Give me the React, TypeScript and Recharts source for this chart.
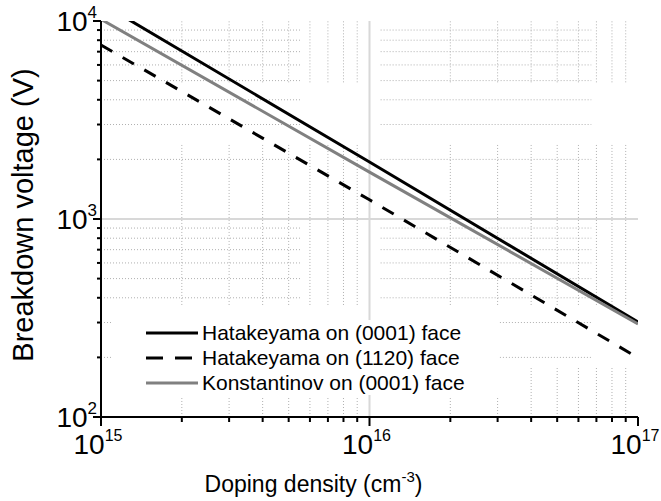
import React from "react";
import {
  Legend,
  Line,
  LineChart,
  ReferenceLine,
  XAxis,
  YAxis,
} from "recharts";

// doping density (cm^-3)
const densities = [1e15, 1e16, 1e17];
// breakdown voltage (V)
const hataC = [12300, 1940, 302];
const hataA = [7570, 1250, 199];
const konst = [10200, 1725, 295];

const xMajor = [1e15, 1e16, 1e17];
const yMajor = [1e2, 1e3, 1e4];
const mult = [2, 3, 4, 5, 6, 7, 8, 9];
const xMinorLeft = mult.map((m) => m * 1e15);
const xMinorRight = mult.map((m) => m * 1e16);
const yMinorUpper = mult.map((m) => m * 1e3);
const yMinorLower = mult.map((m) => m * 1e2);

const xTicks = [...xMajor, ...xMinorLeft, ...xMinorRight].sort((a, b) => a - b);
const yTicks = [...yMajor, ...yMinorUpper, ...yMinorLower].sort((a, b) => a - b);

const series = [
  { key: "a", name: "Hatakeyama on (0001) face", color: "#000", dash: undefined },
  { key: "b", name: "Hatakeyama on (1120) face", color: "#000", dash: "13 12" },
  { key: "c", name: "Konstantinov on (0001) face", color: "#808080", dash: undefined },
];

const data = densities.map((d, i) => ({
  x: d,
  a: hataC[i],
  b: hataA[i],
  c: konst[i],
}));

// visible pieces of the dotted minor grid
const hSpansMain = [
  [1e15, 5.6e15],
  [1.1e16, 6.7e16],
];
const hSpansLow = [
  [1e15, 1.1e15],
  [3.06e16, 6.7e16],
];
const vSpansA = [
  [4.9e3, 1e4],
  [368, 2.37e3],
  [100, 125],
];
const vSpansB = [
  [4.9e3, 1e4],
  [368, 2.37e3],
  [100, 177],
];

const FONT = "'Liberation Sans', Arial, sans-serif";
const minorGrid = { stroke: "#b0b0b0", strokeWidth: 1, strokeDasharray: "1 2" };

const exp = (v: number) => Math.round(Math.log10(v));
const isMajor = (v: number, list: number[]) => list.some((m) => Math.abs(m - v) / m < 1e-6);

const BottomTick = (props: any) => {
  const { x, y, payload } = props;
  const major = isMajor(payload.value, xMajor);
  return (
    <g>
      <line x1={x} x2={x} y1={y} y2={y + (major ? 9 : 5)} stroke="#000" strokeWidth={2} />
      {major && (
        <text x={x - 3} y={y + 37} textAnchor="middle" fontSize={28} fontFamily={FONT} fill="#000">
          10
          <tspan dy={-13} fontSize={16}>
            {exp(payload.value)}
          </tspan>
        </text>
      )}
    </g>
  );
};

const LeftTick = (props: any) => {
  const { x, y, payload } = props;
  const major = isMajor(payload.value, yMajor);
  return (
    <g>
      <line x1={x - (major ? 8 : 4)} x2={x} y1={y} y2={y} stroke="#000" strokeWidth={2} />
      {major && (
        <text x={x - 4} y={y + 10} textAnchor="end" fontSize={28} fontFamily={FONT} fill="#000">
          10
          <tspan dy={-13} fontSize={17}>
            {exp(payload.value)}
          </tspan>
        </text>
      )}
    </g>
  );
};

const TopTick = (props: any) => {
  const { x, y, payload } = props;
  const major = isMajor(payload.value, xMajor);
  return <line x1={x} x2={x} y1={y} y2={y + (major ? 9 : 6)} stroke="#000" strokeWidth={2} />;
};

const RightTick = (props: any) => {
  const { x, y, payload } = props;
  const major = isMajor(payload.value, yMajor);
  return <line x1={x - (major ? 7 : 4)} x2={x} y1={y} y2={y} stroke="#000" strokeWidth={2} />;
};

const YLabel = (props: any) => {
  const { viewBox } = props;
  const cx = viewBox.x + 23;
  const cy = viewBox.y + viewBox.height / 2 - 4;
  return (
    <text
      x={cx}
      y={cy}
      transform={`rotate(-90 ${cx} ${cy})`}
      textAnchor="middle"
      dominantBaseline="central"
      fontSize={29}
      fontFamily={FONT}
      fill="#000"
    >
      Breakdown voltage (V)
    </text>
  );
};

const XLabel = (props: any) => {
  const { viewBox } = props;
  const cx = viewBox.x + viewBox.width / 2 - 56;
  return (
    <text x={cx} y={viewBox.y + 75} textAnchor="middle" fontSize={23} fontFamily={FONT} fill="#000">
      Doping density (cm
      <tspan dy={-10} fontSize={15}>
        -3
      </tspan>
      <tspan dy={10}>)</tspan>
    </text>
  );
};

const LegendBox = () => (
  <div style={{ background: "#fff", fontFamily: FONT, fontSize: 21, color: "#000" }}>
    {series.map((s) => (
      <div key={s.key} style={{ display: "flex", alignItems: "center", height: 25 }}>
        <svg width={52} height={10}>
          <line
            x1={0}
            x2={52}
            y1={5}
            y2={5}
            stroke={s.color}
            strokeWidth={3}
            strokeDasharray={s.dash ? "17 12" : undefined}
          />
        </svg>
        <span style={{ marginLeft: 4, whiteSpace: "nowrap" }}>{s.name}</span>
      </div>
    ))}
  </div>
);

export default function App() {
  return (
    <div style={{ position: "absolute", left: 0, top: 0, background: "#fff" }}>
      <LineChart
        width={661}
        height={501}
        data={data}
        margin={{ top: 21, right: 23, left: 0, bottom: 0 }}
      >
        <XAxis
          xAxisId="b"
          dataKey="x"
          type="number"
          scale="log"
          domain={[1e15, 1e17]}
          allowDataOverflow
          ticks={xTicks}
          interval={0}
          tickSize={0}
          tickMargin={0}
          tickLine={false}
          tick={<BottomTick />}
          axisLine={{ stroke: "#000", strokeWidth: 2 }}
          height={84}
          label={<XLabel />}
        />
        <XAxis
          xAxisId="t"
          orientation="top"
          dataKey="x"
          type="number"
          scale="log"
          domain={[1e15, 1e17]}
          allowDataOverflow
          ticks={xTicks}
          interval={0}
          tickSize={0}
          tickMargin={0}
          tickLine={false}
          tick={<TopTick />}
          axisLine={{ stroke: "#000", strokeWidth: 2 }}
          height={0}
        />
        <YAxis
          yAxisId="l"
          type="number"
          scale="log"
          domain={[100, 10000]}
          allowDataOverflow
          ticks={yTicks}
          interval={0}
          tickSize={0}
          tickMargin={0}
          tickLine={false}
          tick={<LeftTick />}
          axisLine={{ stroke: "#000", strokeWidth: 2 }}
          width={101}
          label={<YLabel />}
        />
        <YAxis
          yAxisId="r"
          orientation="right"
          type="number"
          scale="log"
          domain={[100, 10000]}
          allowDataOverflow
          ticks={yTicks}
          interval={0}
          tickSize={0}
          tickMargin={0}
          tickLine={false}
          tick={<RightTick />}
          axisLine={{ stroke: "#000", strokeWidth: 2 }}
          width={0}
        />

        {[...yMinorUpper, ...yMinorLower.filter((v) => v >= 400)].map((v) =>
          hSpansMain.map(([x1, x2], i) => (
            <ReferenceLine
              key={`h${v}-${i}`}
              xAxisId="b"
              yAxisId="l"
              segment={[{ x: x1, y: v }, { x: x2, y: v }]}
              {...minorGrid}
            />
          ))
        )}
        {yMinorLower
          .filter((v) => v < 400)
          .map((v) =>
            hSpansLow.map(([x1, x2], i) => (
              <ReferenceLine
                key={`hl${v}-${i}`}
                xAxisId="b"
                yAxisId="l"
                segment={[{ x: x1, y: v }, { x: x2, y: v }]}
                {...minorGrid}
              />
            ))
          )}
        {[...xMinorLeft, ...xMinorRight].map((v) =>
          (v < 3.5e16 ? vSpansA : vSpansB).map(([y1, y2], i) => (
            <ReferenceLine
              key={`v${v}-${i}`}
              xAxisId="b"
              yAxisId="l"
              segment={[{ x: v, y: y1 }, { x: v, y: y2 }]}
              {...minorGrid}
            />
          ))
        )}
        <ReferenceLine xAxisId="b" yAxisId="l" x={1e16} stroke="#d8d8d8" strokeWidth={2} />
        <ReferenceLine xAxisId="b" yAxisId="l" y={1e3} stroke="#d8d8d8" strokeWidth={2} />

        {series.map((s) => (
          <Line
            key={s.key}
            xAxisId="b"
            yAxisId="l"
            dataKey={s.key}
            name={s.name}
            type="linear"
            stroke={s.color}
            strokeWidth={3}
            strokeDasharray={s.dash}
            dot={false}
            activeDot={false}
            isAnimationActive={false}
          />
        ))}

        <Legend
          layout="vertical"
          align="center"
          verticalAlign="middle"
          content={<LegendBox />}
          wrapperStyle={{ left: 146, top: 320, width: "auto" }}
        />
      </LineChart>
    </div>
  );
}
